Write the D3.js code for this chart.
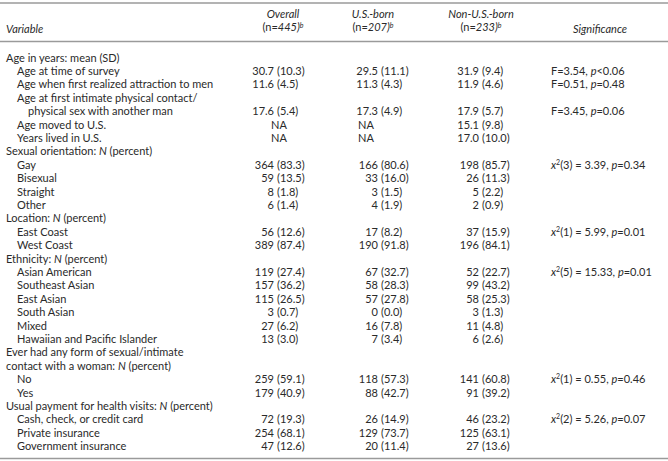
<!DOCTYPE html>
<html>
<head>
<meta charset="utf-8">
<script src="https://cdn.jsdelivr.net/npm/d3@7/dist/d3.min.js"></script>
<style>
  html, body { margin: 0; padding: 0; background: #fff; }
  svg text { font-family: Lato, "Open Sans", sans-serif; font-size: 11px; fill: #2a2a2a; }
</style>
</head>
<body>
<svg id="chart" width="668" height="461"></svg>
<script>
// ---------- DATA ----------
const columnTitles = ["Overall", "U.S.-born", "Non-U.S.-born"];
const columnN = [445, 207, 233];

const variables = [
  "Age in years: mean (SD)",
  "Age at time of survey",
  "Age when first realized attraction to men",
  "Age at first intimate physical contact/",
  "physical sex with another man",
  "Age moved to U.S.",
  "Years lived in U.S.",
  "Sexual orientation: N (percent)",
  "Gay",
  "Bisexual",
  "Straight",
  "Other",
  "Location: N (percent)",
  "East Coast",
  "West Coast",
  "Ethnicity: N (percent)",
  "Asian American",
  "Southeast Asian",
  "East Asian",
  "South Asian",
  "Mixed",
  "Hawaiian and Pacific Islander",
  "Ever had any form of sexual/intimate",
  "contact with a woman: N (percent)",
  "No",
  "Yes",
  "Usual payment for health visits: N (percent)",
  "Cash, check, or credit card",
  "Private insurance",
  "Government insurance"
];
const indentLevel = [0,1,1,1,2,1,1,0,1,1,1,1,0,1,1,0,1,1,1,1,1,1,0,0,1,1,0,1,1,1];
// "mean" rows show mean (SD), "count" rows show N (percent)
const rowKind = ["", "mean","mean","","mean","mean","mean","",
  "count","count","count","count","","count","count","",
  "count","count","count","count","count","count","","",
  "count","count","","count","count","count"];

// Values: first number (mean or N), second number (SD or percent); "NA" = not applicable
const overallA = [null,30.7,11.6,null,17.6,"NA","NA",null,364,59,8,6,null,56,389,null,119,157,115,3,27,13,null,null,259,179,null,72,254,47];
const overallB = [null,10.3,4.5,null,5.4,null,null,null,83.3,13.5,1.8,1.4,null,12.6,87.4,null,27.4,36.2,26.5,0.7,6.2,3.0,null,null,59.1,40.9,null,19.3,68.1,12.6];
const usBornA = [null,29.5,11.3,null,17.3,"NA","NA",null,166,33,3,4,null,17,190,null,67,58,57,0,16,7,null,null,118,88,null,26,129,20];
const usBornB = [null,11.1,4.3,null,4.9,null,null,null,80.6,16.0,1.5,1.9,null,8.2,91.8,null,32.7,28.3,27.8,0.0,7.8,3.4,null,null,57.3,42.7,null,14.9,73.7,11.4];
const nonUSBornA = [null,31.9,11.9,null,17.9,15.1,17.0,null,198,26,5,2,null,37,196,null,52,99,58,3,11,6,null,null,141,91,null,46,125,27];
const nonUSBornB = [null,9.4,4.6,null,5.7,9.8,10.0,null,85.7,11.3,2.2,0.9,null,15.9,84.1,null,22.7,43.2,25.3,1.3,4.8,2.6,null,null,60.8,39.2,null,23.2,63.1,13.6];

// Significance tests
const sigRow  = [1, 2, 4, 8, 13, 16, 24, 27];
const sigTest = ["F","F","F","chi","chi","chi","chi","chi"];
const sigDf   = [null,null,null,3,1,5,1,2];
const sigStat = [3.54,0.51,3.45,3.39,5.99,15.33,0.55,5.26];
const sigPOp  = ["<","=","=","=","=","=","=","="];
const sigP    = [0.06,0.48,0.06,0.34,0.01,0.01,0.46,0.07];

// ---------- LAYOUT ----------
const W = 668, H = 461;
const svg = d3.select("#chart");

const rowY = d3.scaleLinear().domain([0, variables.length - 1]).range([57.5, 446.3]);
const indentX = d3.scaleOrdinal().domain([0,1,2]).range([6, 17, 28]);
const colParenX = [277, 381, 482];
const colNAX = [279, 366, 0];
const colHeadX = [283, 373, 481];
const sigX = 551;
const ruleColor = "#9a9a9a";

const f1 = d3.format(".1f");
const f2 = d3.format(".2f");

[3, 41.5, 458.5].forEach(y => {
  svg.append("line").attr("x1", 0).attr("x2", W).attr("y1", y).attr("y2", y)
    .attr("stroke", ruleColor).attr("stroke-width", 1.6);
});

// header
svg.append("text").attr("x", 6).attr("y", 33).style("font-style", "italic").text("Variable");
svg.append("text").attr("x", 600).attr("y", 33).attr("text-anchor", "middle").style("font-style", "italic").text("Significance");
columnTitles.forEach((t, i) => {
  svg.append("text").attr("x", colHeadX[i]).attr("y", 17.5).attr("text-anchor", "middle")
    .style("font-style", "italic").text(t);
  const nt = svg.append("text").attr("x", colHeadX[i]).attr("y", 31).attr("text-anchor", "middle");
  nt.append("tspan").text("(n=");
  nt.append("tspan").style("font-style", "italic").text(columnN[i] + ")");
  nt.append("tspan").attr("dy", -3.5).style("font-size", "7px").style("font-style", "italic").text("b");
});

const baseOff = 4;
variables.forEach((v, i) => {
  const t = svg.append("text").attr("x", indentX(indentLevel[i])).attr("y", rowY(i) + baseOff);
  v.split(/(\bN\b)/).forEach(p => {
    if (p === "N") t.append("tspan").style("font-style", "italic").text("N");
    else if (p.length) t.append("tspan").text(p);
  });
});

const cols = [[overallA, overallB], [usBornA, usBornB], [nonUSBornA, nonUSBornB]];
cols.forEach(([A, B], c) => {
  A.forEach((a, i) => {
    if (a === null) return;
    const y = rowY(i) + baseOff;
    if (a === "NA") {
      svg.append("text").attr("x", colNAX[c]).attr("y", y).attr("text-anchor", "middle").text("NA");
      return;
    }
    const first = rowKind[i] === "mean" ? f1(a) : String(a);
    svg.append("text").attr("x", colParenX[c] - 3).attr("y", y).attr("text-anchor", "end").text(first);
    svg.append("text").attr("x", colParenX[c]).attr("y", y).text("(" + f1(B[i]) + ")");
  });
});

sigRow.forEach((r, k) => {
  const t = svg.append("text").attr("x", sigX).attr("y", rowY(r) + baseOff);
  if (sigTest[k] === "F") {
    t.append("tspan").text("F=" + f2(sigStat[k]) + ", ");
  } else {
    t.append("tspan").style("font-style", "italic").text("x");
    t.append("tspan").attr("dy", -4).style("font-size", "7px").text("2");
    t.append("tspan").attr("dy", 4).text("(" + sigDf[k] + ") = " + f2(sigStat[k]) + ", ");
  }
  t.append("tspan").style("font-style", "italic").text("p");
  t.append("tspan").text(sigPOp[k] + f2(sigP[k]));
});
</script>
</body>
</html>
